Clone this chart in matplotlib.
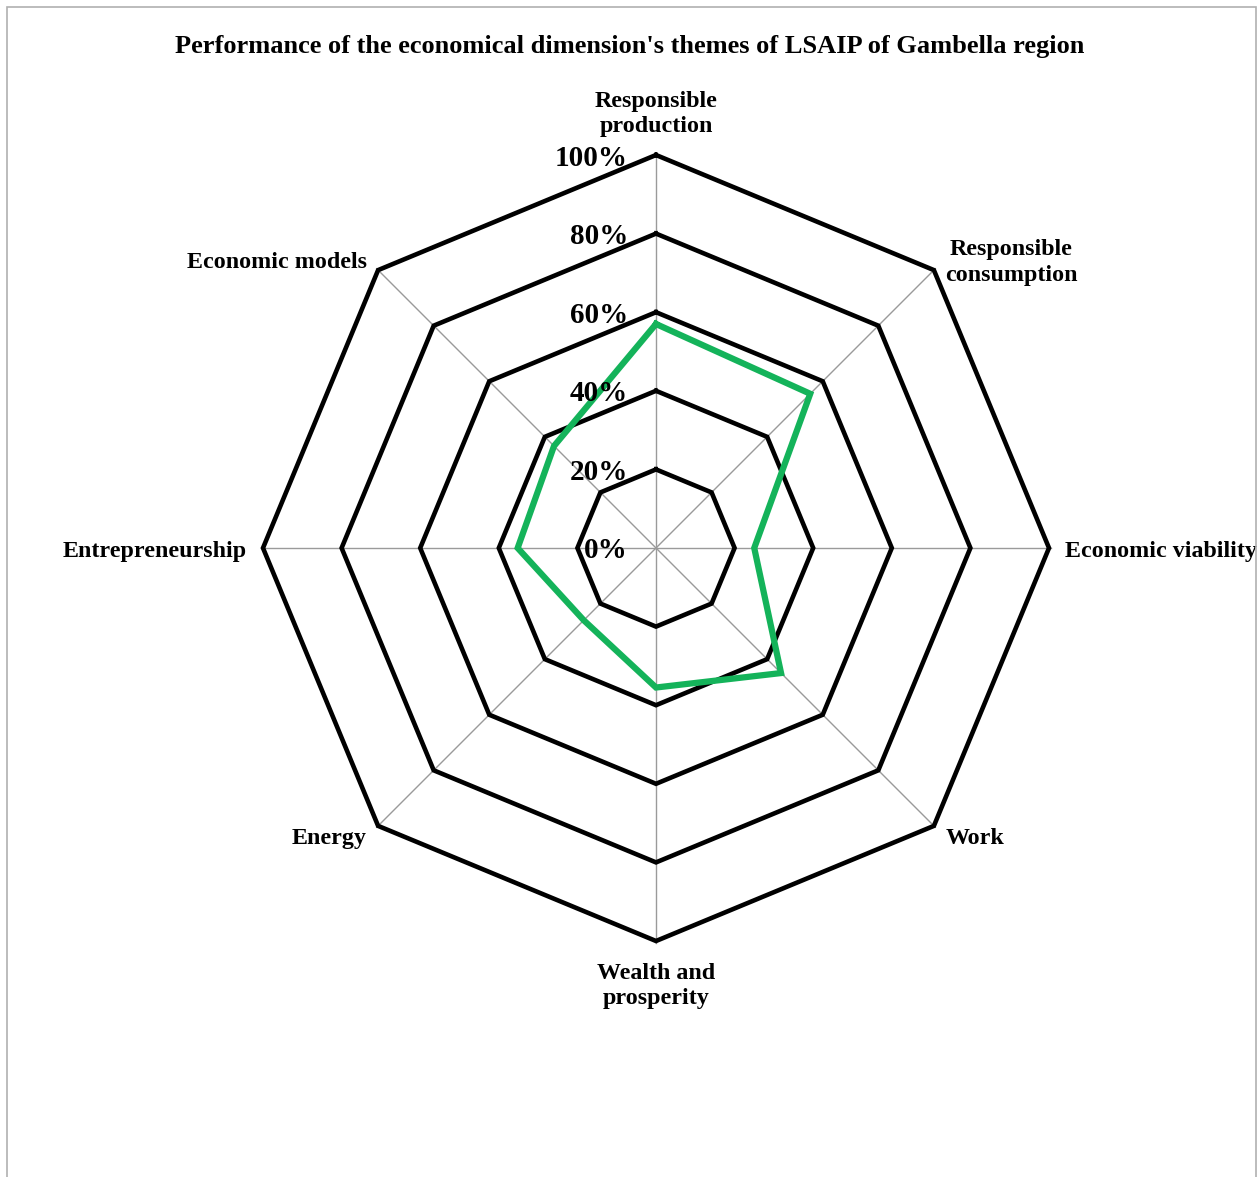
import numpy as np
import matplotlib
matplotlib.use("Agg")
import matplotlib.pyplot as plt
from matplotlib.patches import Rectangle

title = "Performance of the economical dimension's themes of LSAIP of Gambella region"
categories = ["Responsible\nproduction", "Responsible\nconsumption", "Economic viability",
              "Work", "Wealth and\nprosperity", "Energy", "Entrepreneurship", "Economic models"]
values = [0.57, 0.555, 0.25, 0.45, 0.355, 0.26, 0.352, 0.367]
ring_levels = [0.2, 0.4, 0.6, 0.8, 1.0]
tick_labels = ["0%", "20%", "40%", "60%", "80%", "100%"]
tick_values = [0.0, 0.2, 0.4, 0.6, 0.8, 1.0]

# label placement (pixel offsets from vertex, ha)
label_offsets = [(0, 41, "center"), (77, 8, "center"), (16, -3, "left"), (12, -13, "left"),
                 (0, -45, "center"), (-12, -13, "right"), (-16, -3, "right"), (-11, 8, "right")]

plt.rcParams['font.family'] = ['Liberation Serif', 'DejaVu Serif']

W, H = 1260, 1177
fig = plt.figure(figsize=(W / 100, H / 100), dpi=100)
fig.patch.set_facecolor("white")

cx, cy, R = 656, 548, 393
ax = fig.add_axes([(cx - R) / W, (H - cy - R) / H, 2 * R / W, 2 * R / H], projection="polar")
ax.set_theta_zero_location("N")
ax.set_theta_direction(-1)
ax.set_ylim(0, 1)
ax.grid(False)
ax.spines["polar"].set_visible(False)
ax.set_xticks([])
ax.set_yticks([])
ax.patch.set_alpha(0)

n = len(categories)
theta = np.arange(n) * 2 * np.pi / n
theta_c = np.append(theta, theta[0])

# spokes
for t in theta:
    ax.plot([t, t], [0, 1.005], color="#9a9a9a", lw=1.0, zorder=1, clip_on=False)

# rings
for r in ring_levels:
    ax.plot(theta_c, [r] * (n + 1), color="black", lw=3.3, zorder=2, clip_on=False,
            solid_joinstyle="miter")

# data
vals_c = values + [values[0]]
ax.plot(theta_c, vals_c, color="#14B35A", lw=4.5, zorder=3, clip_on=False,
        solid_joinstyle="miter")

# tick labels
for tv, tl in zip(tick_values, tick_labels):
    ax.annotate(tl, xy=(0, tv), xytext=(-28, -3), textcoords="offset pixels",
                ha="right", va="center", fontsize=21, fontweight="bold", zorder=4)

# category labels
for t, lab, (dx, dy, ha) in zip(theta, categories, label_offsets):
    ax.annotate(lab, xy=(t, 1.0), xytext=(dx, dy), textcoords="offset pixels",
                ha=ha, va="center", fontsize=17.3, fontweight="bold", linespacing=1.3,
                multialignment="center", annotation_clip=False)

fig.text(0.5, 1 - 47 / H, title, ha="center", va="center", fontsize=19, fontweight="bold")

fig.patches.append(Rectangle((7 / W, -0.05), (1256 - 7) / W, 1.05 - 7 / H,
                             transform=fig.transFigure, fill=False,
                             edgecolor="#b0b0b0", lw=1.2, zorder=10))

fig.savefig("out.png", dpi=100)
